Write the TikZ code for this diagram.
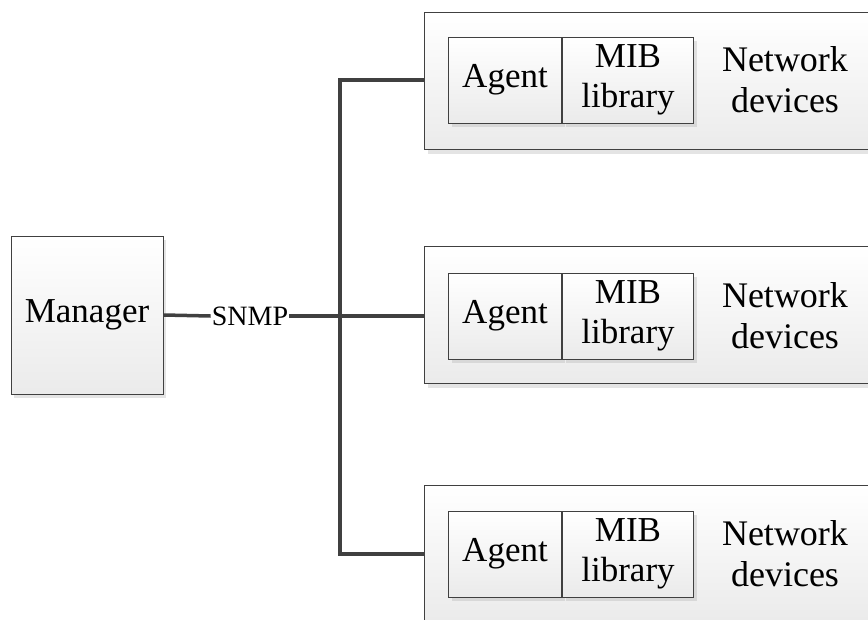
\documentclass[tikz,border=0pt]{standalone}
\usepackage{fontspec}
\setmainfont{Liberation Serif}
\usetikzlibrary{shadows}
\begin{document}
\begin{tikzpicture}[x=1pt,y=-1pt,
  boxstyle/.style={draw=black!75, line width=1pt, top color=white, bottom color=black!8,
    drop shadow={shadow xshift=3pt, shadow yshift=-4pt, opacity=0.3, fill=black!35}},
  partbox/.style={boxstyle, minimum height=86pt, inner sep=0pt, align=center,
    font=\fontsize{35}{40}\selectfont},
  devbox/.style={boxstyle, minimum width=470pt, minimum height=137pt, anchor=north west},
  labeltext/.style={align=center, font=\fontsize{36}{41}\selectfont},
  link/.style={draw=black!75, line width=3.5pt}
]
\useasboundingbox (0,0) rectangle (868,619);
\clip (0,0) rectangle (868,619);

% manager and protocol label
\node[boxstyle, minimum width=152pt, minimum height=158pt, inner sep=0pt,
      font=\fontsize{35}{40}\selectfont] (mgr) at (87,315) {Manager};
\node[inner sep=1pt, font=\fontsize{28}{32}\selectfont] (snmp) at (250,316) {SNMP};

% network devices
\foreach \i/\top/\mid in {1/12/80, 2/246/316, 3/485/554} {
  \node[devbox] (dev\i) at (424,\top) {};
  \node[partbox, minimum width=113pt, anchor=west] (agent\i) at (448,\mid) {Agent};
  \node[partbox, minimum width=131pt, anchor=west] (mib\i) at (agent\i.east) {MIB\\library};
  \node[labeltext] (net\i) at (785,\mid) {Network\\devices};
}

% bus
\coordinate (bustop) at (340,80);
\coordinate (busmid) at (340,316);
\coordinate (busbot) at (340,554);
\draw[link] (mgr.east) -- (snmp.west);
\draw[link] (snmp.east) -- (busmid) -- (dev2.west |- busmid);
\draw[link, line cap=rect] (bustop) -- (busbot);
\draw[link] (bustop) -- (dev1.west |- bustop);
\draw[link] (busbot) -- (dev3.west |- busbot);
\end{tikzpicture}
\end{document}
